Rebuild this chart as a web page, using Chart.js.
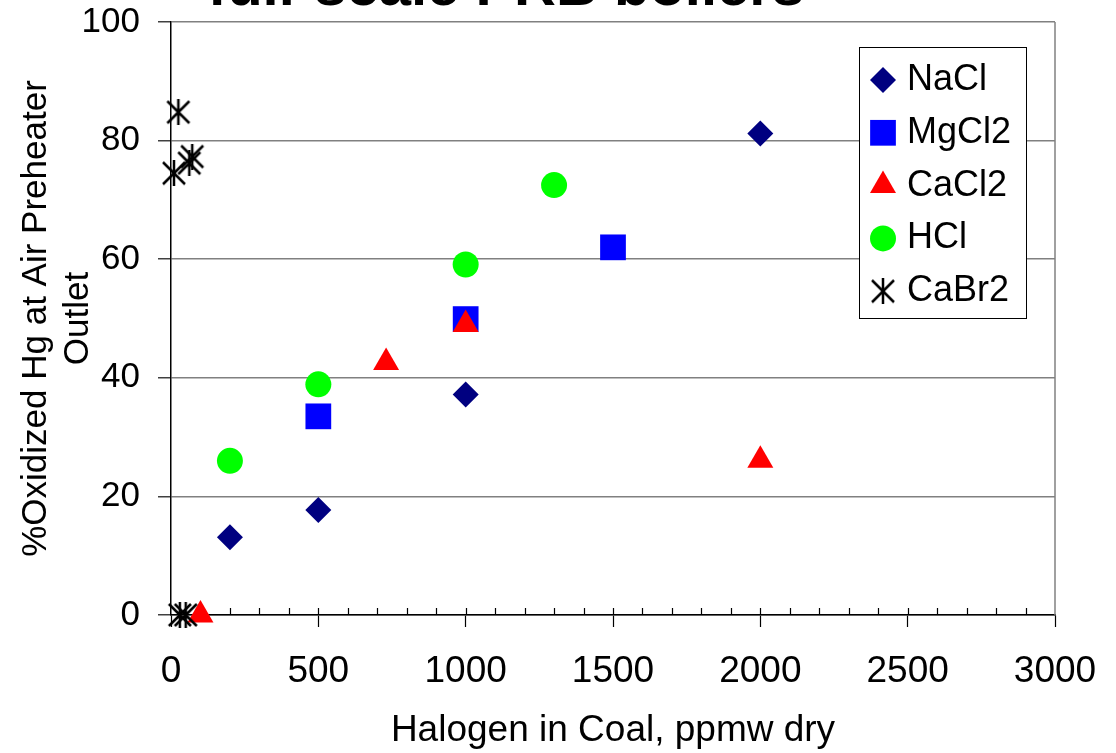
<!DOCTYPE html>
<html>
<head>
<meta charset="utf-8">
<script src="https://cdn.jsdelivr.net/npm/chart.js@4.4.1/dist/chart.umd.min.js"></script>
<style>
  html, body { margin: 0; padding: 0; background: #fff; }
</style>
</head>
<body>
<canvas id="chart" width="1116" height="753"></canvas>
<script>
// values
const naclX = [200, 500, 1000, 2000];
const naclY = [13.1, 17.7, 37.2, 81.2];
const mgcl2X = [500, 1000, 1500];
const mgcl2Y = [33.5, 49.9, 62.0];
const cacl2X = [100, 730, 1000, 2000];
const cacl2Y = [0, 42.6, 49.0, 26.1];
const hclX = [200, 500, 1000, 1300];
const hclY = [26.0, 38.9, 59.1, 72.5];
const cabr2X = [25, 72, 62, 10, 30, 50];
const cabr2Y = [84.8, 77.3, 76.2, 74.5, 0, 0];
const xTicks = [0, 500, 1000, 1500, 2000, 2500, 3000];
const yTicks = [0, 20, 40, 60, 80, 100];

const FONT = '"Liberation Sans", Arial, sans-serif';

function pts(xs, ys) {
  return xs.map((x, i) => ({ x: x, y: ys[i] }));
}

// Excel style asterisk marker
function starMarker() {
  const c = document.createElement('canvas');
  c.width = 26; c.height = 26;
  const g = c.getContext('2d');
  g.strokeStyle = '#000';
  g.lineWidth = 2.5;
  g.beginPath();
  g.moveTo(2, 2); g.lineTo(24, 24);
  g.moveTo(24, 2); g.lineTo(2, 24);
  g.moveTo(13, 0); g.lineTo(13, 26);
  g.stroke();
  return c;
}
const star = starMarker();

// title sits mostly above the canvas, only the bottom shows
const cutTitle = {
  id: 'cutTitle',
  afterDraw(chart, args, opts) {
    const ctx = chart.ctx;
    ctx.save();
    ctx.font = 'bold 58px ' + FONT;
    ctx.fillStyle = '#000';
    ctx.textAlign = 'center';
    ctx.textBaseline = 'alphabetic';
    ctx.fillText(opts.text, opts.x, opts.y);
    ctx.restore();
  }
};

// minor ticks pointing into the plot + right frame line
const frame = {
  id: 'frame',
  beforeDatasetsDraw(chart) {
    const ctx = chart.ctx;
    const a = chart.chartArea;
    const xs = chart.scales.x;
    ctx.save();
    ctx.strokeStyle = '#808080';
    ctx.lineWidth = 1.5;
    ctx.beginPath();
    ctx.moveTo(a.right, a.top);
    ctx.lineTo(a.right, a.bottom);
    ctx.stroke();
    ctx.strokeStyle = '#000';
    ctx.lineWidth = 1.2;
    ctx.beginPath();
    for (let v = 100; v < 3000; v += 100) {
      const px = Math.round(xs.getPixelForValue(v)) + 0.5;
      ctx.moveTo(px, a.bottom);
      ctx.lineTo(px, a.bottom - 7);
    }
    ctx.stroke();
    ctx.restore();
  }
};

// boxed legend inside the plot area
const boxLegend = {
  id: 'boxLegend',
  afterDraw(chart, args, o) {
    const ctx = chart.ctx;
    ctx.save();
    ctx.fillStyle = '#fff';
    ctx.fillRect(o.left, o.top, o.width, o.height);
    ctx.strokeStyle = '#000';
    ctx.lineWidth = 1;
    ctx.strokeRect(o.left + 0.5, o.top + 0.5, o.width, o.height);
    chart.data.datasets.forEach((ds, i) => {
      const y = o.top + o.firstRow + i * o.rowGap;
      ctx.fillStyle = ds.backgroundColor;
      ctx.strokeStyle = ds.borderColor;
      Chart.helpers.drawPoint(ctx, {
        pointStyle: ds.pointStyle, radius: ds.pointRadius, rotation: 0, borderWidth: 0
      }, o.markerX, y);
      ctx.fillStyle = '#000';
      ctx.font = '36px ' + FONT;
      ctx.textAlign = 'left';
      ctx.textBaseline = 'middle';
      ctx.fillText(ds.label, o.textX, y);
    });
    ctx.restore();
  }
};

new Chart(document.getElementById('chart'), {
  type: 'scatter',
  data: {
    datasets: [
      { label: 'NaCl', data: pts(naclX, naclY), pointStyle: 'rectRot', pointRadius: 13,
        backgroundColor: '#000080', borderColor: '#000080', borderWidth: 0, order: 5 },
      { label: 'MgCl2', data: pts(mgcl2X, mgcl2Y), pointStyle: 'rect', pointRadius: 18.2,
        backgroundColor: '#0000ff', borderColor: '#0000ff', borderWidth: 0, order: 4 },
      { label: 'CaCl2', data: pts(cacl2X, cacl2Y), pointStyle: 'triangle', pointRadius: 15,
        backgroundColor: '#ff0000', borderColor: '#ff0000', borderWidth: 0, order: 3 },
      { label: 'HCl', data: pts(hclX, hclY), pointStyle: 'circle', pointRadius: 13,
        backgroundColor: '#00ff00', borderColor: '#00ff00', borderWidth: 0, order: 2 },
      { label: 'CaBr2', data: pts(cabr2X, cabr2Y), pointStyle: star, pointRadius: 13,
        backgroundColor: '#000', borderColor: '#000', borderWidth: 0, order: 1 }
    ]
  },
  options: {
    responsive: false,
    animation: false,
    clip: false,
    layout: { padding: { top: 22, right: 61, left: 0, bottom: 0 } },
    elements: { point: { hoverRadius: 13 } },
    plugins: {
      legend: { display: false },
      tooltip: { enabled: false },
      cutTitle: { text: 'full-scale PRB boilers', x: 506, y: 5 },
      boxLegend: { left: 859, top: 47, width: 167, height: 271, firstRow: 33, rowGap: 52.8, markerX: 883, textX: 907 }
    },
    scales: {
      x: {
        type: 'linear',
        min: 0, max: 3000,
        afterBuildTicks: s => { s.ticks = xTicks.map(v => ({ value: v })); },
        afterFit: s => { s.height = 138; s.paddingLeft = 0; s.paddingRight = 0; },
        grid: { drawOnChartArea: false, tickLength: 12, tickColor: '#000', tickWidth: 1.2 },
        border: { color: '#000', width: 1.5 },
        ticks: { color: '#000', font: { family: FONT, size: 37 }, padding: 23, maxRotation: 0,
                 autoSkip: false, callback: v => String(v) },
        title: { display: true, text: 'Halogen in Coal, ppmw dry', color: '#000',
                 font: { family: FONT, size: 37 }, padding: { top: 0, bottom: 0 } }
      },
      y: {
        type: 'linear',
        min: 0, max: 100,
        afterBuildTicks: s => { s.ticks = yTicks.map(v => ({ value: v })); },
        afterFit: s => { s.width = 171; s.paddingTop = 0; s.paddingBottom = 0; },
        grid: { color: '#808080', lineWidth: 1.5, tickLength: 13, tickColor: '#404040' },
        border: { color: '#000', width: 1.5 },
        ticks: { color: '#000', font: { family: FONT, size: 35 }, padding: 18, callback: v => String(v) },
        title: { display: true, text: ['%Oxidized Hg at Air Preheater', 'Outlet'], color: '#000',
                 font: { family: FONT, size: 35 }, padding: { top: 15, bottom: 0 } }
      }
    }
  },
  plugins: [frame, boxLegend, cutTitle]
});
</script>
</body>
</html>
